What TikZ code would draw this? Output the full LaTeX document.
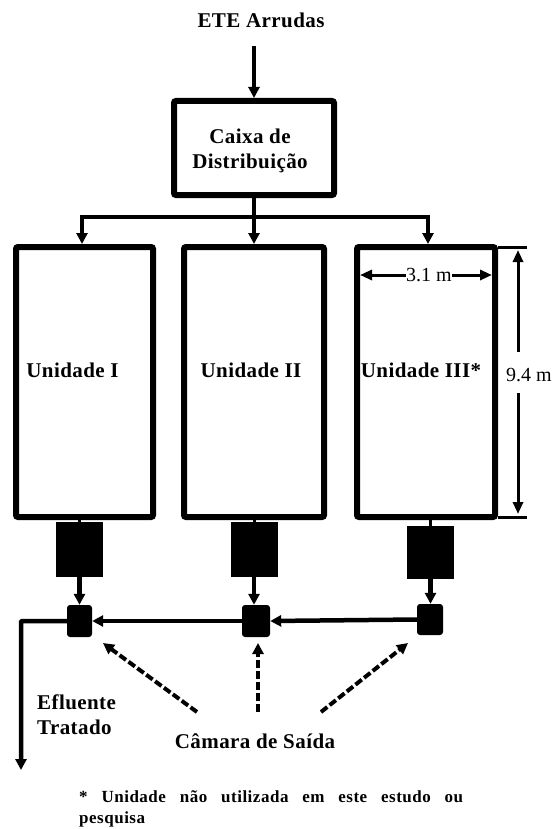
\documentclass[tikz,border=0pt]{standalone}
\usepackage{fontspec}
\setmainfont{Liberation Serif}
\usetikzlibrary{arrows.meta}

\newcommand{\lblfont}{\bfseries\fontsize{21}{25}\selectfont\addfontfeatures{LetterSpace=2}}
\newcommand{\dimfont}{\fontsize{20}{24}\selectfont}
\newcommand{\notefont}{\bfseries\fontsize{17}{21}\selectfont\addfontfeatures{LetterSpace=3}}

\tikzset{
  tank/.style={draw, line width=6pt, rounded corners=2pt, inner sep=0pt},
  chamber/.style={fill=black, inner sep=0pt},
  outbox/.style={fill=black, rounded corners=3pt, inner sep=0pt},
  lbl/.style={font=\lblfont, inner sep=0pt},
  flow/.style={line width=4.5pt, -{Triangle[length=11pt,width=11pt]}},
  pipe/.style={line width=4.5pt},
  stub/.style={line width=3pt},
  dimline/.style={line width=3pt},
  dimarrow/.style={line width=3pt, -{Triangle[length=12pt,width=10pt]}},
  pointer/.style={line width=4pt, dash pattern=on 8pt off 3pt, -{Triangle[length=11pt,width=11pt]}}
}

\begin{document}
\begin{tikzpicture}[x=1pt, y=-1pt]
  \useasboundingbox (0,0) rectangle (555,829);

  % inflow and distribution box
  \node[lbl, anchor=base] (title) at (261,28) {ETE Arrudas};
  \coordinate (inlet) at (254,46);
  \node[tank, minimum width=160pt, minimum height=94pt] (caixa) at (254,148) {};
  \node[lbl, align=center] (caixatxt) at (250,151) {Caixa de\\Distribuição};
  \draw[flow] (inlet) -- (caixa.north);

  % three units
  \node[tank, minimum width=137pt, minimum height=270pt] (uI)   at (84.5,382) {};
  \node[tank, minimum width=140pt, minimum height=270pt] (uII)  at (254,382) {};
  \node[tank, minimum width=138pt, minimum height=270pt] (uIII) at (426,382) {};
  \node[lbl, anchor=base] (tI)   at (72.5,377) {Unidade I};
  \node[lbl, anchor=base] (tII)  at (251,377) {Unidade II};
  \node[lbl, anchor=base] (tIII) at (421,377) {Unidade III*};

  % distribution header
  \coordinate (jI)   at (82,217);
  \coordinate (jII)  at (254,217);
  \coordinate (jIII) at (428,217);
  \draw[pipe] (caixa.south) -- (jII);
  \draw[pipe, line cap=rect] (jI) -- (jIII);
  \draw[flow] (jI) -- (jI |- uI.north);
  \draw[flow] (jII) -- (uII.north);
  \draw[flow] (jIII) -- (jIII |- uIII.north);

  % dimensions of unit III
  \node[font=\dimfont, inner sep=0pt] (w31) at (429,275) {3.1 m};
  \draw[dimarrow] (w31.west) -- ([xshift=6pt]uIII.west |- w31);
  \draw[dimarrow] (w31.east) -- ([xshift=-6pt]uIII.east |- w31);
  \coordinate (extX) at (527,0);
  \draw[dimline] ([yshift=-3pt]uIII.north east) -- ([yshift=-3pt]uIII.north east -| extX);
  \draw[dimline] ([yshift=3pt]uIII.south east) -- ([yshift=3pt]uIII.south east -| extX);
  \node[font=\dimfont, inner sep=0pt] (h94) at (529,375) {9.4 m};
  \coordinate (hUp)   at (518,352);
  \coordinate (hUpT)  at (518,250);
  \coordinate (hDn)   at (518,393);
  \coordinate (hDnT)  at (518,514);
  \draw[dimarrow] (hUp) -- (hUpT);
  \draw[dimarrow] (hDn) -- (hDnT);

  % outlet chambers
  \node[chamber, minimum width=47pt, minimum height=55pt] (rI)   at (79.5,549.5) {};
  \node[chamber, minimum width=47pt, minimum height=55pt] (rII)  at (254,549.5) {};
  \node[chamber, minimum width=47pt, minimum height=53pt] (rIII) at (430.5,552.5) {};
  \draw[stub] (rI.north) -- (rI.north |- uI.south);
  \draw[stub] (rII.north) -- (rII.north |- uII.south);
  \draw[stub] (rIII.north) -- (rIII.north |- uIII.south);

  % collecting boxes
  \node[outbox, minimum width=25pt, minimum height=32pt] (sI)   at (79.5,621) {};
  \node[outbox, minimum width=28pt, minimum height=32pt] (sII)  at (256,621) {};
  \node[outbox, minimum width=26pt, minimum height=31pt] (sIII) at (430,619.5) {};
  \draw[flow] (rI.south) -- (rI.south |- sI.north);
  \draw[flow] (rII.south) -- (rII.south |- sII.north);
  \draw[flow] (rIII.south) -- (rIII.south |- sIII.north);
  \draw[flow] (sIII.west) -- (sII.east);
  \draw[flow] (sII.west) -- (sI.east);

  % treated effluent
  \coordinate (outEnd) at (21,770);
  \draw[flow, rounded corners=1pt] (sI.west) -| (outEnd);
  \node[lbl, align=left, anchor=north west] (eff) at (37,695) {Efluente\\Tratado};

  % outlet chamber label and pointers
  \node[lbl, anchor=base] (cam) at (255,748) {Câmara de Saída};
  \coordinate (pI)   at (197,712);
  \coordinate (pII)  at (258,712);
  \coordinate (pIII) at (321,712);
  \coordinate (qI)   at (103,643);
  \coordinate (qII)  at (258,643);
  \coordinate (qIII) at (408,643);
  \draw[pointer] (pI) -- (qI);
  \draw[pointer] (pII) -- (qII);
  \draw[pointer] (pIII) -- (qIII);

  % footnote
  \node[font=\notefont, inner sep=0pt, anchor=base west] (note1) at (79,802)
    {\makebox[384pt][s]{* Unidade não utilizada em este estudo ou}};
  \node[font=\notefont, inner sep=0pt, anchor=base west] (note2) at (79,823) {pesquisa};
\end{tikzpicture}
\end{document}
